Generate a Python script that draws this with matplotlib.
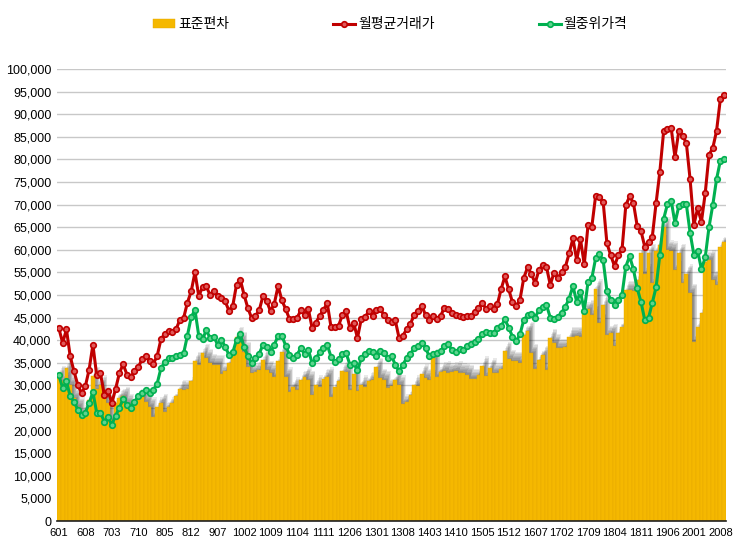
import matplotlib
matplotlib.use('Agg')
import matplotlib.pyplot as plt
import numpy as np

plt.rcParams['font.family'] = ['Liberation Sans', 'Noto Sans CJK KR', 'DejaVu Sans']

# 월별 라벨 (2006.01 ~ 2020.09)
months = ['%d%02d' % (y - 2000, m) for y in range(2006, 2021) for m in range(1, 13)][:177]
month_labels = [s.lstrip('0') for s in months]

# 표준편차 (천원)
std_dev = [32.3, 30.9, 33.8, 30.1, 27.2, 25.3, 23.5, 24.2, 26.8, 32.0, 29.2, 30.1, 27.6, 26.1, 22.4, 26.1,
           27.2, 27.6, 26.1, 25.0, 25.7, 27.2, 27.6, 26.4, 25.3, 23.1, 25.3, 26.1, 24.2, 25.3, 26.1, 27.6,
           29.2, 29.0, 29.2, 30.9, 35.3, 34.6, 37.1, 36.0, 34.9, 34.6, 34.6, 32.6, 33.1, 34.9, 36.4, 40.8,
           39.7, 37.5, 34.1, 32.7, 33.0, 33.4, 35.6, 33.4, 32.7, 31.9, 35.3, 37.5, 31.9, 28.6, 29.7, 28.9,
           31.1, 31.9, 31.1, 27.9, 30.1, 29.7, 31.5, 31.9, 27.5, 29.7, 30.9, 33.1, 32.9, 28.9, 32.6, 28.7,
           30.1, 29.6, 30.9, 31.2, 34.0, 31.6, 31.1, 29.4, 29.8, 31.2, 30.1, 25.9, 26.4, 27.9, 30.1, 29.9,
           32.6, 31.6, 31.2, 36.0, 31.9, 33.0, 33.2, 32.8, 33.0, 33.2, 32.8, 32.7, 32.4, 31.5, 31.5, 32.2,
           34.3, 32.1, 33.9, 32.7, 32.8, 33.6, 37.6, 35.8, 35.4, 35.4, 35.0, 41.1, 42.0, 37.1, 33.7, 35.6,
           36.7, 33.5, 40.4, 39.3, 38.2, 38.2, 38.4, 40.8, 40.8, 40.9, 40.8, 46.3, 46.8, 45.5, 51.4, 43.7,
           47.8, 41.1, 41.5, 38.7, 41.5, 43.0, 51.0, 51.0, 50.8, 53.3, 59.4, 54.7, 59.2, 52.6, 59.8, 61.1,
           65.1, 60.0, 59.8, 55.5, 59.2, 52.6, 54.7, 50.4, 39.7, 43.0, 46.0, 57.4, 57.8, 53.3, 52.2, 60.7,
           61.8]

# 월평균거래가 (천원)
avg_price = [42.6, 39.4, 42.4, 36.4, 33.1, 30.1, 28.3, 29.8, 33.5, 39.0, 32.2, 32.7, 27.9, 28.8, 26.1, 29.2,
             32.7, 34.7, 32.4, 31.8, 33.2, 34.0, 35.8, 36.4, 35.3, 34.8, 36.5, 40.2, 41.4, 42.1, 41.9, 42.4,
             44.5, 44.9, 48.3, 50.8, 55.0, 49.8, 51.7, 51.9, 50.0, 50.8, 49.7, 49.3, 48.6, 46.5, 47.6, 52.3,
             53.4, 50.0, 47.1, 44.9, 45.4, 46.6, 49.8, 48.6, 46.4, 48.1, 52.0, 48.8, 46.9, 44.7, 44.7, 44.9,
             46.6, 45.6, 46.9, 42.7, 43.9, 45.4, 46.7, 48.2, 42.9, 42.9, 43.2, 45.6, 46.4, 42.7, 43.8, 40.5,
             44.7, 45.1, 46.4, 45.4, 46.7, 46.9, 45.6, 44.4, 44.1, 44.4, 40.5, 41.0, 42.4, 43.6, 45.6, 46.4,
             47.6, 45.6, 44.5, 45.3, 44.8, 45.4, 47.2, 46.8, 46.1, 45.5, 45.4, 45.2, 45.4, 45.4, 46.2, 47.2,
             48.2, 47.0, 47.6, 46.8, 47.9, 51.3, 54.1, 51.3, 48.4, 47.6, 49.0, 53.8, 56.1, 54.7, 52.6, 55.5,
             56.6, 56.2, 52.3, 54.9, 53.7, 55.1, 56.2, 59.2, 62.5, 57.7, 62.3, 56.8, 65.5, 65.1, 71.9, 71.7,
             70.6, 61.4, 58.8, 56.4, 58.8, 60.1, 69.9, 71.8, 70.4, 65.3, 64.2, 60.7, 61.8, 62.9, 70.3, 77.3,
             86.2, 86.7, 86.9, 80.5, 86.2, 85.2, 83.7, 75.6, 65.5, 69.2, 66.2, 72.5, 81.0, 82.5, 86.3, 93.3,
             94.3]

# 월중위가격 (천원)
median_price = [32.2, 29.4, 30.9, 27.6, 26.4, 24.6, 23.5, 24.0, 26.1, 28.5, 24.0, 24.0, 22.0, 22.9, 21.3, 23.3,
                25.0, 27.0, 25.7, 25.0, 26.4, 27.6, 28.3, 29.0, 28.3, 29.0, 30.4, 33.8, 35.1, 36.0, 36.0, 36.4,
                36.8, 37.1, 41.0, 45.1, 46.7, 41.0, 40.2, 42.2, 40.5, 40.8, 39.0, 40.1, 38.5, 36.8, 37.3, 40.1,
                41.3, 38.4, 36.5, 34.9, 36.0, 37.0, 39.0, 38.5, 37.3, 39.0, 41.0, 41.0, 38.8, 36.8, 36.0, 36.8,
                38.2, 37.0, 37.9, 34.9, 36.0, 37.3, 38.2, 39.0, 36.3, 35.1, 35.8, 37.0, 37.1, 34.6, 34.9, 33.3,
                36.0, 37.0, 37.7, 37.3, 36.5, 37.7, 37.1, 36.0, 36.5, 34.6, 33.1, 34.6, 36.0, 37.0, 38.2, 38.8,
                39.4, 38.2, 36.5, 37.0, 37.2, 37.6, 38.7, 39.1, 37.8, 37.4, 38.1, 37.8, 38.7, 39.1, 39.6, 40.3,
                41.3, 41.8, 41.7, 41.7, 42.8, 43.1, 44.6, 42.8, 40.8, 39.8, 41.3, 44.5, 45.5, 45.9, 45.0, 46.7,
                47.4, 47.8, 45.0, 44.7, 45.2, 46.1, 47.4, 49.2, 52.0, 48.5, 50.7, 46.5, 52.9, 53.7, 58.1, 59.0,
                57.7, 50.9, 48.9, 47.8, 48.9, 50.1, 56.3, 58.6, 55.7, 51.5, 48.5, 44.5, 44.9, 48.3, 51.7, 58.9,
                66.8, 70.1, 70.9, 65.9, 69.6, 70.1, 70.1, 63.8, 58.9, 59.8, 55.7, 58.3, 65.0, 69.9, 75.6, 79.7,
                80.0]

x = np.arange(len(months))
bars = np.array(std_dev) * 1000
avg = np.array(avg_price) * 1000
med = np.array(median_price) * 1000

fig = plt.figure(figsize=(7.43, 5.42), dpi=100)
ax = fig.add_axes([57 / 743, 21 / 542, 669 / 743, 452 / 542])

# 막대 그림자 (흐릿한 회색)
for k in range(8):
    ax.bar(x + 0.3 + 0.15 * k, bars + 300 * k, width=1.0, color='#303030', alpha=0.1,
           linewidth=0, zorder=1)

b = ax.bar(x, bars, width=1.0, color='#F5B800', edgecolor='#E3A600', linewidth=0.3,
           label='표준편차', zorder=2)

l1, = ax.plot(x, avg, color='#C00000', lw=2.2, marker='o', ms=4, mfc='#E05A5A', mec='#C00000',
              mew=1.2, label='월평균거래가', zorder=4)
l2, = ax.plot(x, med, color='#00B050', lw=2.2, marker='o', ms=4, mfc='#5ED48E', mec='#00B050',
              mew=1.2, label='월중위가격', zorder=3)

ax.set_xlim(-0.5, len(x) - 0.5)
ax.set_ylim(0, 100000)
ax.set_yticks(np.arange(0, 100001, 5000))
ax.yaxis.set_major_formatter(matplotlib.ticker.FuncFormatter(lambda v, p: '{:,.0f}'.format(v)))
ax.set_xticks(x[::7])
ax.set_xticklabels(month_labels[::7])
ax.tick_params(axis='both', length=0, colors='black')
ax.tick_params(axis='x', pad=5, labelsize=8)
ax.tick_params(axis='y', pad=4, labelsize=9)

ax.grid(axis='y', color='#C8C8C8', lw=1)
ax.set_axisbelow(True)
for s in ['top', 'right', 'left']:
    ax.spines[s].set_visible(False)
ax.spines['bottom'].set_color('#202020')
ax.spines['bottom'].set_linewidth(1.2)
ax.spines['bottom'].set_zorder(5)

fig.legend([b, l1, l2], ['표준편차', '월평균거래가', '월중위가격'], loc='center',
           bbox_to_anchor=(0.525, 0.955), ncol=3, frameon=False,
           columnspacing=7.5, handlelength=1.6, handletextpad=0.2,
           prop={'family': ['Noto Sans CJK KR', 'DejaVu Sans'], 'size': 10})

fig.savefig('out.png', dpi=100)
